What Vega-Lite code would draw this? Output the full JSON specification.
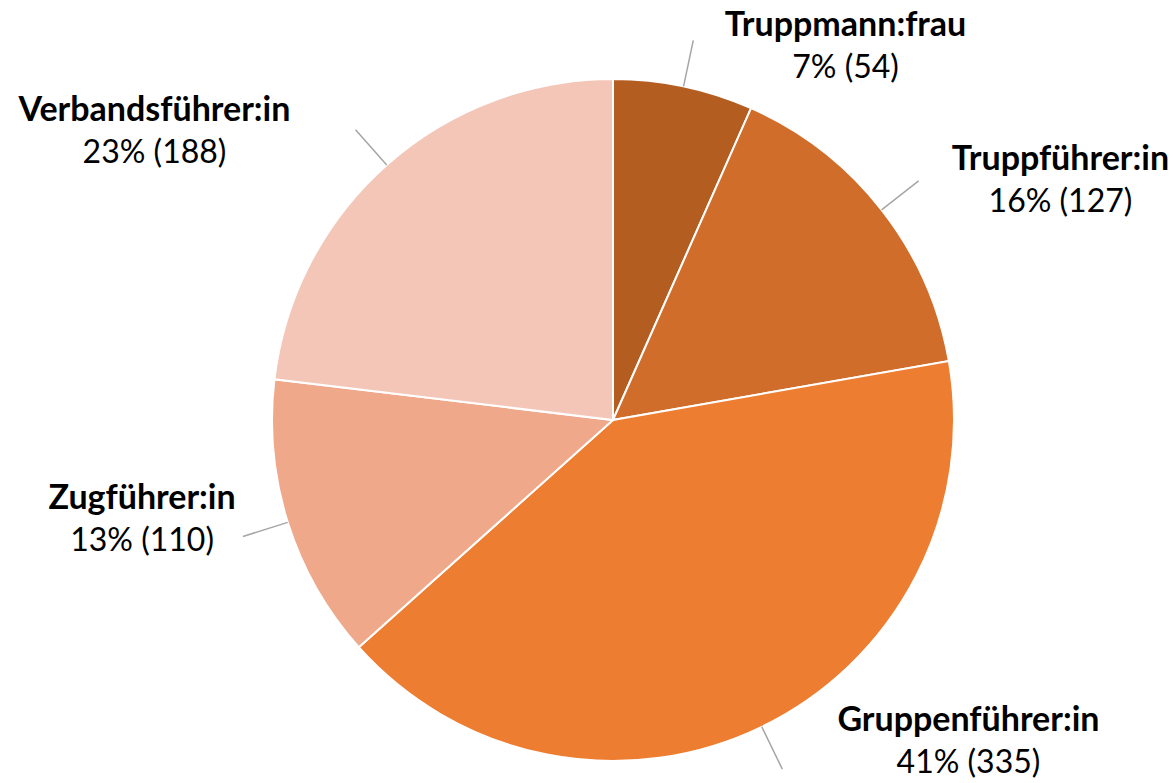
{
  "$schema": "https://vega.github.io/schema/vega-lite/v6.json",
  "autosize": "none",
  "width": 1120,
  "height": 726,
  "padding": {"left": 53, "top": 57, "right": 0, "bottom": 0},
  "background": "white",
  "view": {"stroke": null},
  "data": {
    "values": [
      {"category": "Truppmann:frau", "value": 54, "label": "7% (54)", "idx": 1},
      {"category": "Truppführer:in", "value": 127, "label": "16% (127)", "idx": 2},
      {"category": "Gruppenführer:in", "value": 335, "label": "41% (335)", "idx": 3},
      {"category": "Zugführer:in", "value": 110, "label": "13% (110)", "idx": 4},
      {"category": "Verbandsführer:in", "value": 188, "label": "23% (188)", "idx": 5}
    ]
  },
  "transform": [{"joinaggregate": [{"op": "sum", "field": "value", "as": "total"}]}],
  "encoding": {
    "theta": {"field": "value", "type": "quantitative", "stack": true},
    "order": {"field": "idx", "type": "quantitative"}
  },
  "layer": [
    {
      "mark": {"type": "arc", "outerRadius": 341, "stroke": "white", "strokeWidth": 2},
      "encoding": {
        "color": {
          "field": "category",
          "type": "nominal",
          "scale": {
            "domain": ["Truppmann:frau", "Truppführer:in", "Gruppenführer:in", "Zugführer:in", "Verbandsführer:in"],
            "range": ["#B45D21", "#D16D2B", "#ED7D31", "#F0A88B", "#F4C6B8"]
          },
          "legend": null
        }
      }
    },
    {
      "mark": {"type": "arc", "radius": 388, "radius2": 341, "padAngle": 3.14, "filled": false, "stroke": "#A6A6A6", "strokeWidth": 1.5}
    },
    {
      "mark": {
        "type": "text", "radius": 370, "font": "Lato", "fontSize": 34, "fontWeight": "bold", "color": "#000000",
        "align": "center", "baseline": "middle", "dy": -32,
        "dx": {"expr": "(datum.value_start + datum.value_end < datum.total ? 1 : -1) * (length(datum.category) * 19 - 110)"}
      },
      "encoding": {"text": {"field": "category"}}
    },
    {
      "mark": {
        "type": "text", "radius": 370, "font": "Lato", "fontSize": 32, "fontWeight": "normal", "color": "#000000",
        "align": "center", "baseline": "middle", "dy": 10,
        "dx": {"expr": "(datum.value_start + datum.value_end < datum.total ? 1 : -1) * (length(datum.category) * 19 - 110)"}
      },
      "encoding": {"text": {"field": "label"}}
    }
  ]
}
